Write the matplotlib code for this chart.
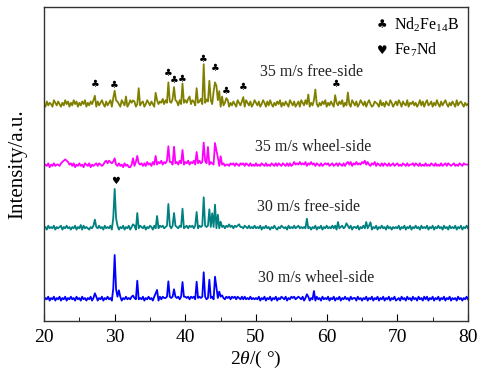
import numpy as np
import matplotlib
matplotlib.use("Agg")
import matplotlib.pyplot as plt

plt.rcParams['font.family'] = ['Liberation Serif', 'DejaVu Sans']
plt.rcParams['mathtext.fontset'] = 'custom'
plt.rcParams['mathtext.rm'] = 'Liberation Serif'
plt.rcParams['mathtext.it'] = 'Liberation Serif:italic'

# 2theta grid of the scans (deg)
two_theta_start, two_theta_stop, two_theta_step = 20.0, 80.0, 0.2

# labels of the four patterns (top to bottom)
labels = ["35 m/s free-side", "35 m/s wheel-side", "30 m/s free-side", "30 m/s wheel-side"]
colors = ["#808000", "#ff00ff", "#008080", "#0000ff"]
offsets = [214.3, 153.8, 91.4, 20.4]

# background noise (digits, 0.2 deg step, groups of 10)
noise_35_free = """
2041320531 4203152403 1524031425 0314253041 3520413502
3142053140 2531402513 4025314203 5243625314 3625415243
5364254153 4625314352 4135204132 5031420531 4205314025
3140253041 5203142503 1420531402 4053152403 1542031425
0314205314 2503142053 1402531403 5201432051 3042153024
1530421503 2413025140 3512403152 0413520314 2051342031
2"""
noise_35_wheel = """
1213021312 2134565423 1302131203 2130212313 2124535432
3213120312 0023141323 1314231424 2435243534 4253425342
4352435243 5342534243 2423132312 2132313213 2313213121
3121321312 1321313213 2131312423 2423241324 2313213123
2312312313 2131342413 2423243524 2132413213 1321312312
3121321312 2313213121 3121321312 1312313212 3121321322
2"""
noise_30_free = """
1203121302 1230213120 2130212031 2102130213 1203121302
2130213021 3021302132 1302132031 2132312323 1323213231
2313231321 3231323121 2313132313 2423132312 2132131213
1213021312 0213102132 1203121312 3121213120 2130213021
3121313021 2312131302 2130213121 3102130213 1203120212
1302130213 0213120312 1302130213 1203120312 1302130213
1"""
noise_30_wheel = """
0213021302 1302130213 1203120312 0213021302 1302131203
2131302131 2130213121 3021312031 2031322313 2313231323
3231323132 3231312323 1312031213 2313231321 3131213121
2130213021 3021302132 1302132312 3213021302 1203120312
1302130213 0213120312 2031202130 2130213021 3021302130
1203120312 0312031203 1302130213 0213021302 1203120213
1"""

# peaks: (2theta, height above background)
peaks_35_free = [(27.2, 7), (29.8, 6), (30.0, 12), (30.2, 5), (31.6, 5), (32.6, 5),
                 (33.4, 12), (35.8, 10), (37.6, 23), (38.4, 17), (39.6, 18), (40.6, 5),
                 (41.6, 12), (42.6, 36), (43.0, 6), (43.4, 22), (44.0, 10), (44.2, 23),
                 (44.4, 17), (44.8, 13), (45.2, 5), (45.8, 6), (48.2, 7), (57.4, 7),
                 (58.4, 12), (61.2, 5), (63.0, 9)]
peaks_35_wheel = [(29.8, 3), (30.0, 5), (32.6, 5), (33.2, 10), (35.8, 6), (37.6, 17),
                  (38.4, 14), (39.6, 12), (41.6, 10), (42.6, 22), (43.2, 15), (44.2, 19),
                  (44.4, 14), (44.6, 6), (45.0, 7)]
peaks_30_free = [(25.2, 2), (27.2, 10), (29.8, 9), (30.0, 38), (30.2, 10), (32.6, 4),
                 (33.2, 14), (36.0, 11), (37.6, 23), (38.4, 14), (39.6, 17), (41.6, 15),
                 (42.6, 31), (43.4, 19), (43.8, 15), (44.2, 21), (44.6, 11), (45.0, 4),
                 (47.6, 4), (57.2, 7), (61.6, 5), (62.8, 5), (65.6, 5), (66.2, 6)]
peaks_30_wheel = [(27.2, 6), (29.8, 8), (30.0, 43), (30.2, 10), (30.6, 9), (32.6, 5),
                  (33.2, 16), (35.8, 6), (36.0, 8), (37.6, 18), (38.4, 10), (39.6, 16),
                  (41.6, 15), (42.6, 27), (43.4, 17), (44.2, 20), (44.4, 12), (44.8, 9),
                  (45.2, 4), (57.2, 5), (58.2, 7)]

# phase markers (2theta, y)
club_marks = [(27.26, 237), (29.9, 236), (37.55, 247.7), (38.5, 241), (39.6, 242),
              (42.6, 261.7), (44.2, 253.3), (45.8, 230.3), (48.2, 233.7), (61.3, 236.7)]
heart_marks = [(30.1, 140)]

label_pos = [(50.57, 249), (49.86, 174), (50.1, 113.7), (50.3, 42.7)]

xticks = [20, 30, 40, 50, 60, 70, 80]

noises = [noise_35_free, noise_35_wheel, noise_30_free, noise_30_wheel]
peak_sets = [peaks_35_free, peaks_35_wheel, peaks_30_free, peaks_30_wheel]

fig = plt.figure(figsize=(4.79, 3.80), dpi=100)
ax = fig.add_axes([44/479, (380-321)/380, (468-44)/479, (321-7)/380])

x = np.round(np.arange(two_theta_start, two_theta_stop + 1e-9, two_theta_step), 1)
unit = 1.3
for noise, pks, col, off in zip(noises, peak_sets, colors, offsets):
    digits = np.array([int(c) for c in noise if c.isdigit()], dtype=float)
    assert len(digits) == len(x), len(digits)
    y = off + unit * digits
    for p, h in pks:
        i = int(round((p - two_theta_start) / two_theta_step))
        y[i] += h
    ax.plot(x, y, color=col, lw=1.3)

for (lx, ly), t in zip(label_pos, labels):
    ax.text(lx, ly, t, fontsize=11.5, va='center', ha='left', color='#222222')

for px, py in club_marks:
    ax.text(px, py, "\u2663", fontsize=7, ha='center', va='center',
            family=['DejaVu Sans'])
for px, py in heart_marks:
    ax.text(px, py, "\u2665", fontsize=7, ha='center', va='center',
            family=['DejaVu Sans'])

ax.text(67.8, 296, "\u2663", fontsize=8.5, ha='center', va='center', family=['DejaVu Sans'])
ax.text(69.5, 296, "Nd$_2$Fe$_{14}$B", fontsize=11.5, ha='left', va='center')
ax.text(67.8, 271, "\u2665", fontsize=8.5, ha='center', va='center', family=['DejaVu Sans'])
ax.text(69.5, 271, "Fe$_7$Nd", fontsize=11.5, ha='left', va='center')

ax.set_xlim(20, 80)
ax.set_ylim(0, 314)
ax.set_xticks(xticks)
ax.set_xticks([25, 35, 45, 55, 65, 75], minor=True)
ax.set_yticks([])
ax.tick_params(axis='x', which='major', direction='in', length=5, labelsize=14, pad=6)
ax.tick_params(axis='x', which='minor', direction='in', length=3)
for s in ax.spines.values():
    s.set_color('#333333')
    s.set_linewidth(1.0)
ax.set_xlabel(r"2$\it{\theta}$/( °)", fontsize=14, labelpad=2)
ax.set_ylabel("Intensity/a.u.", fontsize=15, labelpad=12)

fig.savefig("out.png", dpi=100)
